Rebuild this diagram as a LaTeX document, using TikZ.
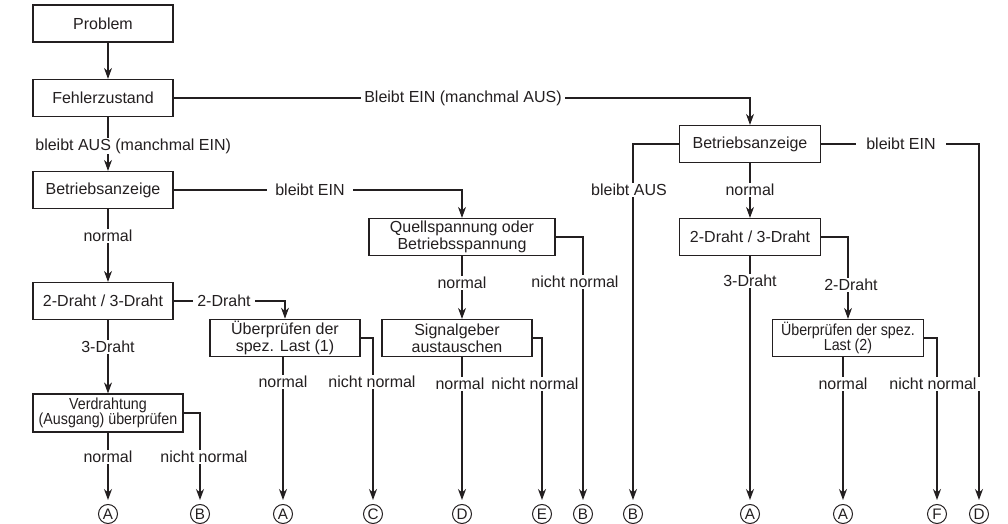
\documentclass[tikz,border=0pt]{standalone}
\usepackage{fontspec}
\setmainfont{Liberation Sans}
\newfontfamily\narrowfont{Liberation Sans}[FakeStretch=0.89]
\usetikzlibrary{arrows.meta}
\definecolor{ink}{HTML}{231F20}
\tikzset{
  box/.style={draw=ink, line width=0.6pt, text=ink, minimum height=18.5pt, inner sep=1pt, align=center, font=\fontsize{8}{8.4}\selectfont},
  narrowbox/.style={box, font=\narrowfont\fontsize{8}{7.6}\selectfont},
  flow/.style={draw=ink, line width=0.55pt, -{Stealth[length=5.5pt,width=4pt]}},
  toend/.style={flow, shorten >=2pt},
  lab/.style={fill=white, text=ink, inner xsep=2pt, inner ysep=0.5pt, font=\fontsize{8}{9}\selectfont},
  ende/.style={circle, draw=ink, line width=0.5pt, text=ink, inner sep=0pt, minimum size=9.5pt, font=\fontsize{7.6}{7.6}\selectfont},
}

\begin{document}
\begin{tikzpicture}[x=0.5pt, y=-0.5pt]
  \useasboundingbox (0,0) rectangle (1008,524);
  % boxes (pixel grid of the sheet)
  \node[box, minimum width=70pt] (problem) at (103,23.5) {Problem};
  \node[box, minimum width=70pt] (fehler) at (103,98) {Fehlerzustand};
  \node[box, minimum width=70pt] (anzeigeL) at (103,190) {Betriebsanzeige};
  \node[box, minimum width=70pt] (drahtL) at (103,301) {2-Draht / 3-Draht};
  \node[narrowbox, minimum width=75pt, minimum height=19pt] (verdraht) at (108,413) {Verdrahtung\\(Ausgang) überprüfen};
  \node[box, minimum width=75pt] (last1) at (285,338) {Überprüfen der\\spez. Last (1)};
  \node[box, minimum width=93pt] (quelle) at (462,237) {Quellspannung oder\\Betriebsspannung};
  \node[box, minimum width=75pt] (geber) at (457,338) {Signalgeber\\austauschen};
  \node[box, minimum width=70.5pt] (anzeigeR) at (750,144) {Betriebsanzeige};
  \node[box, minimum width=70.5pt] (drahtR) at (750,237) {2-Draht / 3-Draht};
  \node[narrowbox, minimum width=75.5pt] (last2) at (848,338) {Überprüfen der spez.\\Last (2)};
  % end marks
  \node[ende] (endA1) at (108,514) {A};
  \node[ende] (endB1) at (200,514) {B};
  \node[ende] (endA2) at (283,514) {A};
  \node[ende] (endC) at (373,514) {C};
  \node[ende] (endD1) at (462,514) {D};
  \node[ende] (endE) at (542,514) {E};
  \node[ende] (endB2) at (583,514) {B};
  \node[ende] (endB3) at (633,514) {B};
  \node[ende] (endA3) at (750,514) {A};
  \node[ende] (endA4) at (843,514) {A};
  \node[ende] (endF) at (937,514) {F};
  \node[ende] (endD2) at (979,514) {D};
  % left column
  \draw[flow] (problem.south -| verdraht) -- (fehler.north -| verdraht);
  \draw[flow] (fehler.south -| verdraht) -- (anzeigeL.north -| verdraht);
  \node[lab, anchor=west] (lAus) at (31,146) {bleibt AUS (manchmal EIN)};
  \draw[flow] (anzeigeL.south -| verdraht) -- (drahtL.north -| verdraht);
  \node[lab] (lNorm1) at (108,236) {normal};
  \draw[flow] (drahtL.south -| verdraht) -- (verdraht.north);
  \node[lab] (l3Draht1) at (108,347) {3-Draht};
  \draw[toend] (verdraht.south -| endA1) -- (endA1);
  \node[lab] (lNorm2) at (108,457) {normal};
  \draw[toend] (verdraht.east) -| (endB1);
  \node[lab] (lNicht1) at (204,457) {nicht normal};
  % 2-Draht branch
  \draw[flow] (drahtL.east) -| (last1.north);
  \node[lab] (l2Draht1) at (224,301) {2-Draht};
  \draw[toend] (last1.south -| endA2) -- (endA2);
  \node[lab] (lNorm3) at (283,382) {normal};
  \draw[toend] (last1.east) -| (endC);
  \node[lab] (lNicht2) at (372,382) {nicht normal};
  % bleibt EIN branch
  \draw[flow] (anzeigeL.east) -| (quelle.north);
  \node[lab, inner xsep=4pt] (lEin1) at (310,190) {bleibt EIN};
  \draw[flow] (quelle.south) -- (quelle.south |- geber.north);
  \node[lab] (lNorm4) at (462,283) {normal};
  \draw[toend] (quelle.east) -| (endB2);
  \node[lab] (lNicht3) at (575,282) {nicht normal};
  \draw[toend] (geber.south -| endD1) -- (endD1);
  \node[lab, inner xsep=1pt] (lNorm5) at (460,384) {normal};
  \draw[toend] (geber.east) -| (endE);
  \node[lab, inner xsep=1pt] (lNicht4) at (535,384) {nicht normal};
  % right side
  \draw[flow] (fehler.east) -| (anzeigeR.north);
  \node[lab, inner xsep=1.5pt] (lEinAus) at (463,98) {Bleibt EIN (manchmal AUS)};
  \draw[toend] (anzeigeR.west) -| (endB3);
  \node[lab] (lAus2) at (629,190) {bleibt AUS};
  \draw[flow] (anzeigeR.south) -- (drahtR.north);
  \node[lab] (lNorm6) at (750,190) {normal};
  \draw[toend] (anzeigeR.east) -| (endD2);
  \node[lab, inner xsep=5pt] (lEin2) at (901,144) {bleibt EIN};
  \draw[toend] (drahtR.south) -- (endA3);
  \node[lab] (l3Draht2) at (750,281) {3-Draht};
  \draw[flow] (drahtR.east) -| (last2.north);
  \node[lab] (l2Draht2) at (851,285) {2-Draht};
  \draw[toend] (last2.south -| endA4) -- (endA4);
  \node[lab] (lNorm7) at (843,384) {normal};
  \draw[toend] (last2.east) -| (endF);
  \node[lab] (lNicht5) at (933,384) {nicht normal};
\end{tikzpicture}
\end{document}
